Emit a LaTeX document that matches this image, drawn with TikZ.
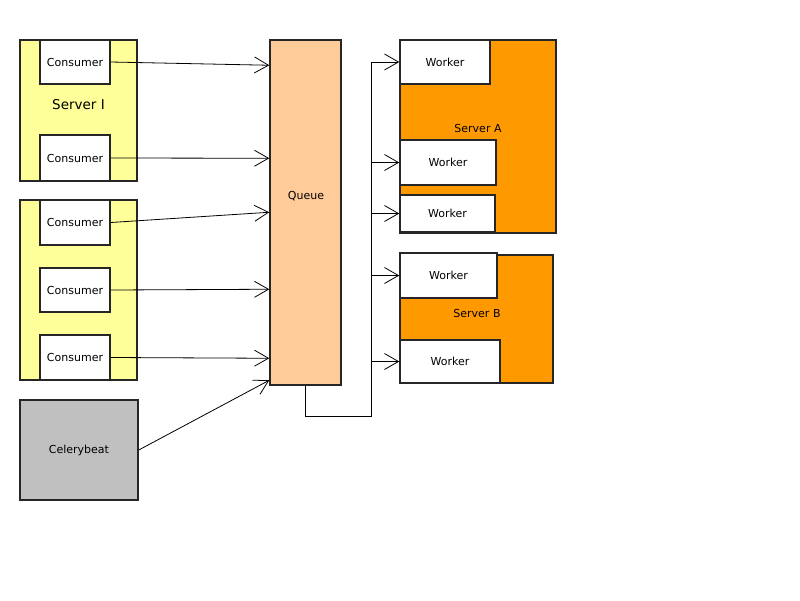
\documentclass[tikz,border=0pt]{standalone}
\usepackage{fontspec}
\setmainfont{DejaVu Sans}
\usepackage{tikz}
\usetikzlibrary{arrows.meta, positioning, calc}

\definecolor{srvyellow}{HTML}{FFFF99}
\definecolor{queuepeach}{HTML}{FFCC99}
\definecolor{srvorange}{HTML}{FF9900}
\definecolor{beatgray}{HTML}{C0C0C0}

\begin{document}
\begin{tikzpicture}[x=1pt, y=-1pt,
  box/.style={draw=black!85, line width=1.5pt, inner sep=0pt, font=\fontsize{11}{13}\selectfont},
  flow/.style={-{Straight Barb[length=14pt, width=16pt]}, line width=0.8pt}]
\useasboundingbox (0,0) rectangle (800,600);

% Consumer servers
\node[box, fill=srvyellow, minimum width=117pt, minimum height=141pt] (srvI) at (78.5,110.5) {};
\node[font=\fontsize{13.5}{15}\selectfont] (srvIlbl) at (78.5,105) {Server I};
\node[box, fill=white, minimum width=70pt, minimum height=44pt] (c1) at (75,62) {Consumer};
\node[box, fill=white, minimum width=70pt, minimum height=46pt] (c2) at (75,158) {Consumer};

\node[box, fill=srvyellow, minimum width=117pt, minimum height=180pt] (srvII) at (78.5,290) {};
\node[box, fill=white, minimum width=70pt, minimum height=45pt] (c3) at (75,222.5) {Consumer};
\node[box, fill=white, minimum width=70pt, minimum height=44pt] (c4) at (75,290) {Consumer};
\node[box, fill=white, minimum width=70pt, minimum height=45pt] (c5) at (75,357.5) {Consumer};

\node[box, fill=beatgray, minimum width=118pt, minimum height=100pt] (beat) at (79,450) {Celerybeat};

% Queue
\node[box, fill=queuepeach, minimum width=71pt, minimum height=345pt] (queue) at (305.5,212.5) {};
\node[font=\fontsize{11}{13}\selectfont] (queuelbl) at (306,196) {Queue};

% Worker servers
\node[box, fill=srvorange, minimum width=156pt, minimum height=193pt] (srvA) at (478,136.5) {};
\node[font=\fontsize{11}{13}\selectfont] (srvAlbl) at (478,128) {Server A};
\node[box, fill=white, minimum width=90pt, minimum height=44pt] (wA1) at (445,62) {Worker};
\node[box, fill=white, minimum width=96pt, minimum height=45pt] (wA2) at (448,162.5) {Worker};
\node[box, fill=white, minimum width=95pt, minimum height=37pt] (wA3) at (447.5,213.5) {Worker};

\node[box, fill=srvorange, minimum width=153pt, minimum height=128pt] (srvB) at (476.5,319) {};
\node[font=\fontsize{11}{13}\selectfont] (srvBlbl) at (477,313) {Server B};
\node[box, fill=white, minimum width=97pt, minimum height=45pt] (wB1) at (448.5,275.5) {Worker};
\node[box, fill=white, minimum width=100pt, minimum height=43pt] (wB2) at (450,361.5) {Worker};

% Producers to queue
\draw[flow] (c1.east) -- ([yshift=-26pt]queue.north west);
\draw[flow] (c2.east) -- ([yshift=-119pt]queue.north west);
\draw[flow] (c3.east) -- ([yshift=-173pt]queue.north west);
\draw[flow] (c4.east) -- ([yshift=-250pt]queue.north west);
\draw[flow] (c5.east) -- ([yshift=-319pt]queue.north west);
\draw[flow] (beat.east) -- ([yshift=-341pt]queue.north west);

% Queue to workers
\coordinate (bus) at (371,416);
\draw[line width=0.8pt] (queue.south) |- (bus) -- (bus |- wA1.west);
\foreach \w in {wA1,wA2,wA3,wB1,wB2}
  \draw[flow] (bus |- \w.west) -- (\w.west);
\end{tikzpicture}
\end{document}
